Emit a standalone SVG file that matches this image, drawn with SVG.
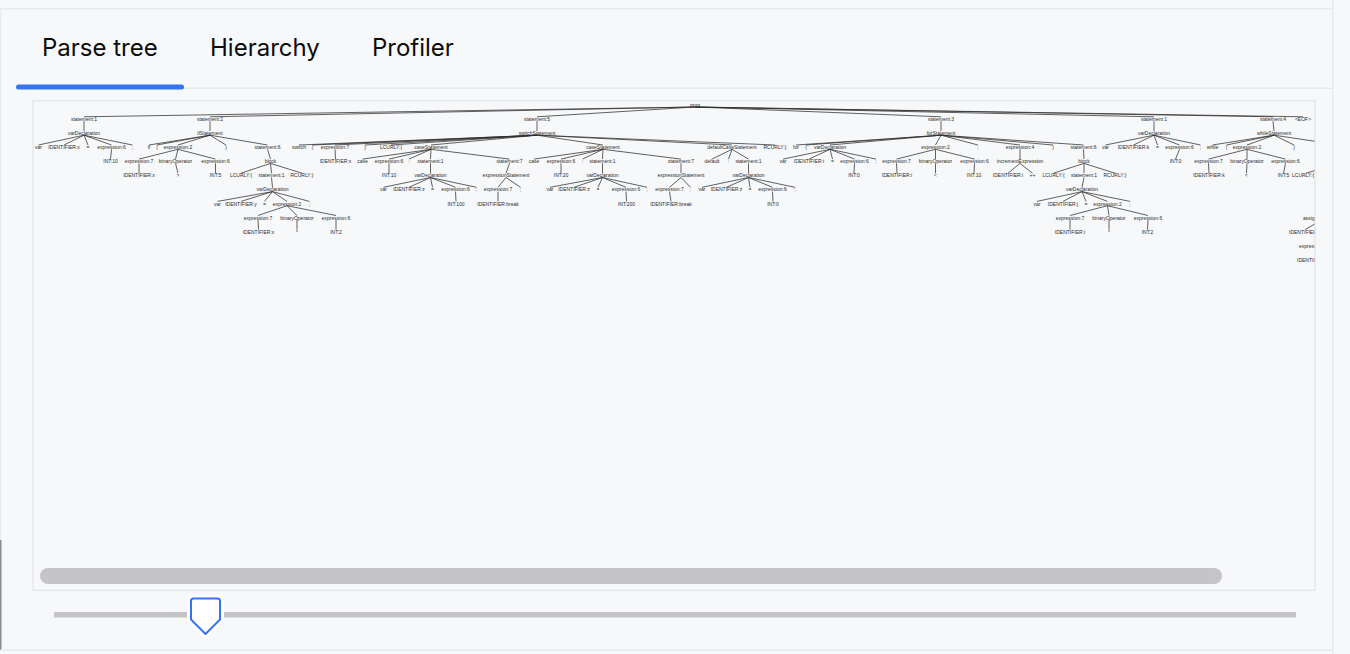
<svg xmlns="http://www.w3.org/2000/svg" width="1350" height="654" viewBox="0 0 1350 654">
<defs>
<style>
.tab{font-family:Inter,"Noto Sans",sans-serif;font-size:24px;fill:#0c0c0c}
.t{font-family:"Liberation Sans",Arial,sans-serif;font-size:5px;fill:#2b2b2b;text-anchor:middle}
.ts{text-anchor:start}
#edges line{stroke:#2e2e2e;stroke-width:0.75}
.sep{fill:#e9eaed}
</style>
<clipPath id="treeClip"><rect x="34" y="101.5" width="1280.5" height="488"/></clipPath>
</defs>
<rect x="0" y="0" width="1350" height="654" fill="#f7f8fa"/>
<g id="frame">
<rect class="sep" x="0" y="8" width="1333" height="1.5"/>
<rect class="sep" x="0" y="9" width="1.2" height="641"/>
<rect x="0" y="540" width="1.5" height="110" fill="#8e8e90"/>
<rect class="sep" x="0" y="649.5" width="1333" height="1.5"/>
<rect class="sep" x="1332" y="0" width="1.5" height="654"/>
</g>
<g id="tabs">
<rect class="sep" x="16" y="87.5" width="1317" height="1.5"/>
<rect x="16" y="84.5" width="168" height="5" rx="2.5" fill="#3574f0"/>
<text class="tab" x="42" y="56">Parse tree</text>
<text class="tab" x="210" y="56">Hierarchy</text>
<text class="tab" x="372" y="56">Profiler</text>
</g>
<g id="panel">
<rect x="33" y="100.8" width="1282" height="489.5" fill="#f7f8fa" stroke="#e6e7ea" stroke-width="1.5"/>
<rect x="40" y="568" width="1182" height="16" rx="8" fill="#c5c5c7"/>
</g>
<g id="slider">
<rect x="54" y="612" width="1242" height="5.5" fill="#c5c5c7"/>
<path d="M193.5 598.5 H217.5 Q220 598.5 220 601 V619.5 L205.5 634 L191 619.5 V601 Q191 598.5 193.5 598.5 Z" fill="#ffffff" stroke="#ffffff" stroke-width="8" stroke-linejoin="round"/>
<path d="M193.5 598.5 H217.5 Q220 598.5 220 601 V619.5 L205.5 634 L191 619.5 V601 Q191 598.5 193.5 598.5 Z" fill="#ffffff" stroke="#3574f0" stroke-width="2" stroke-linejoin="round"/>
</g>
<g id="tree" clip-path="url(#treeClip)">
<g id="edges">
<line x1="695" y1="107" x2="84" y2="116.8"/><line x1="695" y1="107" x2="210" y2="116.8"/><line x1="695" y1="107" x2="537" y2="116.8"/><line x1="695" y1="107" x2="941" y2="116.8"/><line x1="695" y1="107" x2="1154" y2="116.8"/><line x1="695" y1="107" x2="1273" y2="116.8"/><line x1="695" y1="107" x2="1303" y2="116.8"/>
<line x1="84" y1="121.1" x2="84" y2="130.9"/><line x1="210" y1="121.1" x2="210" y2="130.9"/><line x1="537" y1="121.1" x2="537" y2="130.9"/><line x1="941" y1="121.1" x2="941" y2="130.9"/><line x1="1154" y1="121.1" x2="1154" y2="130.9"/><line x1="1273" y1="121.1" x2="1274" y2="130.9"/>
<line x1="84" y1="135.2" x2="38.5" y2="145"/><line x1="84" y1="135.2" x2="64" y2="145"/><line x1="84" y1="135.2" x2="88" y2="145"/><line x1="84" y1="135.2" x2="111.5" y2="145"/><line x1="84" y1="135.2" x2="132.5" y2="145"/>
<line x1="210" y1="135.2" x2="149" y2="145"/><line x1="210" y1="135.2" x2="157" y2="145"/><line x1="210" y1="135.2" x2="178" y2="145"/><line x1="210" y1="135.2" x2="226" y2="145"/><line x1="210" y1="135.2" x2="267.5" y2="145"/>
<line x1="537" y1="135.2" x2="299" y2="145"/><line x1="537" y1="135.2" x2="312.5" y2="145"/><line x1="537" y1="135.2" x2="335" y2="145"/><line x1="537" y1="135.2" x2="365" y2="145"/><line x1="537" y1="135.2" x2="391" y2="145"/><line x1="537" y1="135.2" x2="431" y2="145"/><line x1="537" y1="135.2" x2="603" y2="145"/><line x1="537" y1="135.2" x2="732" y2="145"/><line x1="537" y1="135.2" x2="775" y2="145"/>
<line x1="941" y1="135.2" x2="796" y2="145"/><line x1="941" y1="135.2" x2="806" y2="145"/><line x1="941" y1="135.2" x2="830" y2="145"/><line x1="941" y1="135.2" x2="935.5" y2="145"/><line x1="941" y1="135.2" x2="978" y2="145"/><line x1="941" y1="135.2" x2="1020" y2="145"/><line x1="941" y1="135.2" x2="1053" y2="145"/><line x1="941" y1="135.2" x2="1083.5" y2="145"/>
<line x1="1154" y1="135.2" x2="1105.5" y2="145"/><line x1="1154" y1="135.2" x2="1133.5" y2="145"/><line x1="1154" y1="135.2" x2="1157.5" y2="145"/><line x1="1154" y1="135.2" x2="1179.5" y2="145"/><line x1="1154" y1="135.2" x2="1200.5" y2="145"/>
<line x1="1274" y1="135.2" x2="1212.5" y2="145"/><line x1="1274" y1="135.2" x2="1226.5" y2="145"/><line x1="1274" y1="135.2" x2="1247" y2="145"/><line x1="1274" y1="135.2" x2="1294" y2="145"/><line x1="1274" y1="135.2" x2="1340" y2="145"/>
<line x1="111.5" y1="149.3" x2="110.5" y2="159.1"/>
<line x1="178" y1="149.3" x2="139" y2="159.1"/><line x1="178" y1="149.3" x2="175.5" y2="159.1"/><line x1="178" y1="149.3" x2="215.5" y2="159.1"/>
<line x1="267.5" y1="149.3" x2="270.5" y2="159.1"/>
<line x1="335" y1="149.3" x2="335.5" y2="159.1"/>
<line x1="431" y1="149.3" x2="362.5" y2="159.1"/><line x1="431" y1="149.3" x2="389" y2="159.1"/><line x1="431" y1="149.3" x2="409" y2="159.1"/><line x1="431" y1="149.3" x2="430.5" y2="159.1"/><line x1="431" y1="149.3" x2="509.5" y2="159.1"/>
<line x1="603" y1="149.3" x2="534" y2="159.1"/><line x1="603" y1="149.3" x2="561" y2="159.1"/><line x1="603" y1="149.3" x2="582.5" y2="159.1"/><line x1="603" y1="149.3" x2="602.5" y2="159.1"/><line x1="603" y1="149.3" x2="681" y2="159.1"/>
<line x1="732" y1="149.3" x2="712" y2="159.1"/><line x1="732" y1="149.3" x2="728.5" y2="159.1"/><line x1="732" y1="149.3" x2="748.5" y2="159.1"/>
<line x1="830" y1="149.3" x2="783" y2="159.1"/><line x1="830" y1="149.3" x2="809" y2="159.1"/><line x1="830" y1="149.3" x2="832.5" y2="159.1"/><line x1="830" y1="149.3" x2="854.5" y2="159.1"/><line x1="830" y1="149.3" x2="876" y2="159.1"/>
<line x1="935.5" y1="149.3" x2="896.5" y2="159.1"/><line x1="935.5" y1="149.3" x2="935.5" y2="159.1"/><line x1="935.5" y1="149.3" x2="974.5" y2="159.1"/>
<line x1="1020" y1="149.3" x2="1020" y2="159.1"/>
<line x1="1083.5" y1="149.3" x2="1084" y2="159.1"/>
<line x1="1179.5" y1="149.3" x2="1175.5" y2="159.1"/>
<line x1="1247" y1="149.3" x2="1208.5" y2="159.1"/><line x1="1247" y1="149.3" x2="1247" y2="159.1"/><line x1="1247" y1="149.3" x2="1285.5" y2="159.1"/>
<line x1="1340" y1="149.3" x2="1340" y2="159.1"/>
<line x1="139" y1="163.4" x2="139" y2="173.2"/><line x1="175.5" y1="163.4" x2="178" y2="173.2"/><line x1="215.5" y1="163.4" x2="215.5" y2="173.2"/>
<line x1="270.5" y1="163.4" x2="241" y2="173.2"/><line x1="270.5" y1="163.4" x2="271.5" y2="173.2"/><line x1="270.5" y1="163.4" x2="302" y2="173.2"/>
<line x1="389" y1="163.4" x2="389" y2="173.2"/><line x1="430.5" y1="163.4" x2="430.5" y2="173.2"/><line x1="509.5" y1="163.4" x2="506" y2="173.2"/>
<line x1="561" y1="163.4" x2="561" y2="173.2"/><line x1="602.5" y1="163.4" x2="602.5" y2="173.2"/><line x1="681" y1="163.4" x2="681" y2="173.2"/>
<line x1="748.5" y1="163.4" x2="748.5" y2="173.2"/><line x1="854.5" y1="163.4" x2="854" y2="173.2"/>
<line x1="896.5" y1="163.4" x2="897" y2="173.2"/><line x1="935.5" y1="163.4" x2="935.5" y2="173.2"/><line x1="974.5" y1="163.4" x2="974" y2="173.2"/>
<line x1="1020" y1="163.4" x2="1008" y2="173.2"/><line x1="1020" y1="163.4" x2="1032.5" y2="173.2"/>
<line x1="1084" y1="163.4" x2="1053.5" y2="173.2"/><line x1="1084" y1="163.4" x2="1084" y2="173.2"/><line x1="1084" y1="163.4" x2="1115" y2="173.2"/>
<line x1="1208.5" y1="163.4" x2="1209" y2="173.2"/><line x1="1247" y1="163.4" x2="1246.5" y2="173.2"/><line x1="1285.5" y1="163.4" x2="1283.5" y2="173.2"/>
<line x1="1340" y1="163.4" x2="1306" y2="173.2"/>
<line x1="271.5" y1="177.5" x2="272.5" y2="187.3"/>
<line x1="430.5" y1="177.5" x2="383.5" y2="187.3"/><line x1="430.5" y1="177.5" x2="409" y2="187.3"/><line x1="430.5" y1="177.5" x2="432.5" y2="187.3"/><line x1="430.5" y1="177.5" x2="455.5" y2="187.3"/><line x1="430.5" y1="177.5" x2="476.5" y2="187.3"/>
<line x1="506" y1="177.5" x2="498" y2="187.3"/><line x1="506" y1="177.5" x2="520.5" y2="187.3"/>
<line x1="602.5" y1="177.5" x2="550" y2="187.3"/><line x1="602.5" y1="177.5" x2="574" y2="187.3"/><line x1="602.5" y1="177.5" x2="598" y2="187.3"/><line x1="602.5" y1="177.5" x2="626" y2="187.3"/><line x1="602.5" y1="177.5" x2="647" y2="187.3"/>
<line x1="681" y1="177.5" x2="669.5" y2="187.3"/><line x1="681" y1="177.5" x2="690.5" y2="187.3"/>
<line x1="748.5" y1="177.5" x2="702" y2="187.3"/><line x1="748.5" y1="177.5" x2="726.5" y2="187.3"/><line x1="748.5" y1="177.5" x2="750" y2="187.3"/><line x1="748.5" y1="177.5" x2="772.5" y2="187.3"/><line x1="748.5" y1="177.5" x2="795" y2="187.3"/>
<line x1="1084" y1="177.5" x2="1082" y2="187.3"/>
<line x1="272.5" y1="191.6" x2="217.5" y2="201.4"/><line x1="272.5" y1="191.6" x2="241" y2="201.4"/><line x1="272.5" y1="191.6" x2="264.5" y2="201.4"/><line x1="272.5" y1="191.6" x2="287" y2="201.4"/><line x1="272.5" y1="191.6" x2="309.5" y2="201.4"/>
<line x1="455.5" y1="191.6" x2="456" y2="201.4"/><line x1="498" y1="191.6" x2="498" y2="201.4"/><line x1="626" y1="191.6" x2="626.5" y2="201.4"/><line x1="669.5" y1="191.6" x2="671" y2="201.4"/><line x1="772.5" y1="191.6" x2="773" y2="201.4"/>
<line x1="1082" y1="191.6" x2="1037" y2="201.4"/><line x1="1082" y1="191.6" x2="1063" y2="201.4"/><line x1="1082" y1="191.6" x2="1086" y2="201.4"/><line x1="1082" y1="191.6" x2="1107.5" y2="201.4"/><line x1="1082" y1="191.6" x2="1130" y2="201.4"/>
<line x1="287" y1="205.7" x2="258" y2="215.5"/><line x1="287" y1="205.7" x2="297" y2="215.5"/><line x1="287" y1="205.7" x2="336" y2="215.5"/>
<line x1="1107.5" y1="205.7" x2="1070" y2="215.5"/><line x1="1107.5" y1="205.7" x2="1109" y2="215.5"/><line x1="1107.5" y1="205.7" x2="1148" y2="215.5"/>
<line x1="258" y1="219.8" x2="258.5" y2="229.6"/><line x1="297" y1="219.8" x2="297" y2="229.6"/><line x1="336" y1="219.8" x2="336" y2="229.6"/>
<line x1="1070" y1="219.8" x2="1070" y2="229.6"/><line x1="1109" y1="219.8" x2="1109" y2="229.6"/><line x1="1148" y1="219.8" x2="1147.5" y2="229.6"/>
<line x1="1322" y1="219.8" x2="1305" y2="229.6"/>
</g>
<g id="n0"><text class="t" x="695" y="106.8">prog</text></g>
<g id="n1"><text class="t" x="84" y="120.9">statement:1</text></g>
<g id="n2"><text class="t" x="210" y="120.9">statement:2</text></g>
<g id="n3"><text class="t" x="537" y="120.9">statement:5</text></g>
<g id="n4"><text class="t" x="941" y="120.9">statement:3</text></g>
<g id="n5"><text class="t" x="1154" y="120.9">statement:1</text></g>
<g id="n6"><text class="t" x="1273" y="120.9">statement:4</text></g>
<g id="n7"><text class="t" x="1303" y="120.9">&lt;EOF&gt;</text></g>
<g id="n8"><text class="t" x="84" y="135">varDeclaration</text></g>
<g id="n9"><text class="t" x="210" y="135">ifStatement</text></g>
<g id="n10"><text class="t" x="537" y="135">switchStatement</text></g>
<g id="n11"><text class="t" x="941" y="135">forStatement</text></g>
<g id="n12"><text class="t" x="1154" y="135">varDeclaration</text></g>
<g id="n13"><text class="t" x="1274" y="135">whileStatement</text></g>
<g id="n14"><text class="t" x="38.5" y="149.1">var</text></g>
<g id="n15"><text class="t" x="64" y="149.1">IDENTIFIER:x</text></g>
<g id="n16"><text class="t" x="88" y="149.1">=</text></g>
<g id="n17"><text class="t" x="111.5" y="149.1">expression:6</text></g>
<g id="n18"><text class="t" x="132.5" y="149.1">;</text></g>
<g id="n19"><text class="t" x="149" y="149.1">if</text></g>
<g id="n20"><text class="t" x="157" y="149.1">(</text></g>
<g id="n21"><text class="t" x="178" y="149.1">expression:2</text></g>
<g id="n22"><text class="t" x="226" y="149.1">)</text></g>
<g id="n23"><text class="t" x="267.5" y="149.1">statement:6</text></g>
<g id="n24"><text class="t" x="299" y="149.1">switch</text></g>
<g id="n25"><text class="t" x="312.5" y="149.1">(</text></g>
<g id="n26"><text class="t" x="335" y="149.1">expression:7</text></g>
<g id="n27"><text class="t" x="365" y="149.1">)</text></g>
<g id="n28"><text class="t" x="391" y="149.1">LCURLY:{</text></g>
<g id="n29"><text class="t" x="431" y="149.1">caseStatement</text></g>
<g id="n30"><text class="t" x="603" y="149.1">caseStatement</text></g>
<g id="n31"><text class="t" x="732" y="149.1">defaultCaseStatement</text></g>
<g id="n32"><text class="t" x="775" y="149.1">RCURLY:}</text></g>
<g id="n33"><text class="t" x="796" y="149.1">for</text></g>
<g id="n34"><text class="t" x="806" y="149.1">(</text></g>
<g id="n35"><text class="t" x="830" y="149.1">varDeclaration</text></g>
<g id="n36"><text class="t" x="935.5" y="149.1">expression:2</text></g>
<g id="n37"><text class="t" x="978" y="149.1">;</text></g>
<g id="n38"><text class="t" x="1020" y="149.1">expression:4</text></g>
<g id="n39"><text class="t" x="1053" y="149.1">)</text></g>
<g id="n40"><text class="t" x="1083.5" y="149.1">statement:6</text></g>
<g id="n41"><text class="t" x="1105.5" y="149.1">var</text></g>
<g id="n42"><text class="t" x="1133.5" y="149.1">IDENTIFIER:k</text></g>
<g id="n43"><text class="t" x="1157.5" y="149.1">=</text></g>
<g id="n44"><text class="t" x="1179.5" y="149.1">expression:6</text></g>
<g id="n45"><text class="t" x="1200.5" y="149.1">;</text></g>
<g id="n46"><text class="t" x="1212.5" y="149.1">while</text></g>
<g id="n47"><text class="t" x="1226.5" y="149.1">(</text></g>
<g id="n48"><text class="t" x="1247" y="149.1">expression:2</text></g>
<g id="n49"><text class="t" x="1294" y="149.1">)</text></g>
<g id="n51"><text class="t" x="110.5" y="163.2">INT:10</text></g>
<g id="n52"><text class="t" x="139" y="163.2">expression:7</text></g>
<g id="n53"><text class="t" x="175.5" y="163.2">binaryOperator</text></g>
<g id="n54"><text class="t" x="215.5" y="163.2">expression:6</text></g>
<g id="n55"><text class="t" x="270.5" y="163.2">block</text></g>
<g id="n56"><text class="t" x="335.5" y="163.2">IDENTIFIER:x</text></g>
<g id="n57"><text class="t" x="362.5" y="163.2">case</text></g>
<g id="n58"><text class="t" x="389" y="163.2">expression:6</text></g>
<g id="n59"><text class="t" x="409" y="163.2">:</text></g>
<g id="n60"><text class="t" x="430.5" y="163.2">statement:1</text></g>
<g id="n61"><text class="t" x="509.5" y="163.2">statement:7</text></g>
<g id="n62"><text class="t" x="534" y="163.2">case</text></g>
<g id="n63"><text class="t" x="561" y="163.2">expression:6</text></g>
<g id="n64"><text class="t" x="582.5" y="163.2">:</text></g>
<g id="n65"><text class="t" x="602.5" y="163.2">statement:1</text></g>
<g id="n66"><text class="t" x="681" y="163.2">statement:7</text></g>
<g id="n67"><text class="t" x="712" y="163.2">default</text></g>
<g id="n68"><text class="t" x="728.5" y="163.2">:</text></g>
<g id="n69"><text class="t" x="748.5" y="163.2">statement:1</text></g>
<g id="n70"><text class="t" x="783" y="163.2">var</text></g>
<g id="n71"><text class="t" x="809" y="163.2">IDENTIFIER:i</text></g>
<g id="n72"><text class="t" x="832.5" y="163.2">=</text></g>
<g id="n73"><text class="t" x="854.5" y="163.2">expression:6</text></g>
<g id="n74"><text class="t" x="876" y="163.2">;</text></g>
<g id="n75"><text class="t" x="896.5" y="163.2">expression:7</text></g>
<g id="n76"><text class="t" x="935.5" y="163.2">binaryOperator</text></g>
<g id="n77"><text class="t" x="974.5" y="163.2">expression:6</text></g>
<g id="n78"><text class="t" x="1020" y="163.2">incrementExpression</text></g>
<g id="n79"><text class="t" x="1084" y="163.2">block</text></g>
<g id="n80"><text class="t" x="1175.5" y="163.2">INT:0</text></g>
<g id="n81"><text class="t" x="1208.5" y="163.2">expression:7</text></g>
<g id="n82"><text class="t" x="1247" y="163.2">binaryOperator</text></g>
<g id="n83"><text class="t" x="1285.5" y="163.2">expression:6</text></g>
<g id="n85"><text class="t" x="139" y="177.3">IDENTIFIER:x</text></g>
<g id="n86"><text class="t" x="178" y="177.3">&gt;</text></g>
<g id="n87"><text class="t" x="215.5" y="177.3">INT:5</text></g>
<g id="n88"><text class="t" x="241" y="177.3">LCURLY:{</text></g>
<g id="n89"><text class="t" x="271.5" y="177.3">statement:1</text></g>
<g id="n90"><text class="t" x="302" y="177.3">RCURLY:}</text></g>
<g id="n91"><text class="t" x="389" y="177.3">INT:10</text></g>
<g id="n92"><text class="t" x="430.5" y="177.3">varDeclaration</text></g>
<g id="n93"><text class="t" x="506" y="177.3">expressionStatement</text></g>
<g id="n94"><text class="t" x="561" y="177.3">INT:20</text></g>
<g id="n95"><text class="t" x="602.5" y="177.3">varDeclaration</text></g>
<g id="n96"><text class="t" x="681" y="177.3">expressionStatement</text></g>
<g id="n97"><text class="t" x="748.5" y="177.3">varDeclaration</text></g>
<g id="n98"><text class="t" x="854" y="177.3">INT:0</text></g>
<g id="n99"><text class="t" x="897" y="177.3">IDENTIFIER:i</text></g>
<g id="n100"><text class="t" x="935.5" y="177.3">&lt;</text></g>
<g id="n101"><text class="t" x="974" y="177.3">INT:10</text></g>
<g id="n102"><text class="t" x="1008" y="177.3">IDENTIFIER:i</text></g>
<g id="n103"><text class="t" x="1032.5" y="177.3">++</text></g>
<g id="n104"><text class="t" x="1053.5" y="177.3">LCURLY:{</text></g>
<g id="n105"><text class="t" x="1084" y="177.3">statement:1</text></g>
<g id="n106"><text class="t" x="1115" y="177.3">RCURLY:}</text></g>
<g id="n107"><text class="t" x="1209" y="177.3">IDENTIFIER:k</text></g>
<g id="n108"><text class="t" x="1246.5" y="177.3">&lt;</text></g>
<g id="n109"><text class="t" x="1283.5" y="177.3">INT:5</text></g>
<g id="n110"><text class="t ts" x="1292" y="177.3">LCURLY:{</text></g>
<g id="n111"><text class="t" x="272.5" y="191.4">varDeclaration</text></g>
<g id="n112"><text class="t" x="383.5" y="191.4">var</text></g>
<g id="n113"><text class="t" x="409" y="191.4">IDENTIFIER:z</text></g>
<g id="n114"><text class="t" x="432.5" y="191.4">=</text></g>
<g id="n115"><text class="t" x="455.5" y="191.4">expression:6</text></g>
<g id="n116"><text class="t" x="476.5" y="191.4">;</text></g>
<g id="n117"><text class="t" x="498" y="191.4">expression:7</text></g>
<g id="n118"><text class="t" x="520.5" y="191.4">;</text></g>
<g id="n119"><text class="t" x="550" y="191.4">var</text></g>
<g id="n120"><text class="t" x="574" y="191.4">IDENTIFIER:z</text></g>
<g id="n121"><text class="t" x="598" y="191.4">=</text></g>
<g id="n122"><text class="t" x="626" y="191.4">expression:6</text></g>
<g id="n123"><text class="t" x="647" y="191.4">;</text></g>
<g id="n124"><text class="t" x="669.5" y="191.4">expression:7</text></g>
<g id="n125"><text class="t" x="690.5" y="191.4">;</text></g>
<g id="n126"><text class="t" x="702" y="191.4">var</text></g>
<g id="n127"><text class="t" x="726.5" y="191.4">IDENTIFIER:z</text></g>
<g id="n128"><text class="t" x="750" y="191.4">=</text></g>
<g id="n129"><text class="t" x="772.5" y="191.4">expression:6</text></g>
<g id="n130"><text class="t" x="795" y="191.4">;</text></g>
<g id="n131"><text class="t" x="1082" y="191.4">varDeclaration</text></g>
<g id="n132"><text class="t" x="217.5" y="205.5">var</text></g>
<g id="n133"><text class="t" x="241" y="205.5">IDENTIFIER:y</text></g>
<g id="n134"><text class="t" x="264.5" y="205.5">=</text></g>
<g id="n135"><text class="t" x="287" y="205.5">expression:2</text></g>
<g id="n136"><text class="t" x="309.5" y="205.5">;</text></g>
<g id="n137"><text class="t" x="456" y="205.5">INT:100</text></g>
<g id="n138"><text class="t" x="498" y="205.5">IDENTIFIER:break</text></g>
<g id="n139"><text class="t" x="626.5" y="205.5">INT:200</text></g>
<g id="n140"><text class="t" x="671" y="205.5">IDENTIFIER:break</text></g>
<g id="n141"><text class="t" x="773" y="205.5">INT:0</text></g>
<g id="n142"><text class="t" x="1037" y="205.5">var</text></g>
<g id="n143"><text class="t" x="1063" y="205.5">IDENTIFIER:j</text></g>
<g id="n144"><text class="t" x="1086" y="205.5">=</text></g>
<g id="n145"><text class="t" x="1107.5" y="205.5">expression:2</text></g>
<g id="n146"><text class="t" x="1130" y="205.5">;</text></g>
<g id="n147"><text class="t" x="258" y="219.6">expression:7</text></g>
<g id="n148"><text class="t" x="297" y="219.6">binaryOperator</text></g>
<g id="n149"><text class="t" x="336" y="219.6">expression:6</text></g>
<g id="n150"><text class="t" x="1070" y="219.6">expression:7</text></g>
<g id="n151"><text class="t" x="1109" y="219.6">binaryOperator</text></g>
<g id="n152"><text class="t" x="1148" y="219.6">expression:6</text></g>
<g id="n153"><text class="t ts" x="1303" y="219.6">assignment</text></g>
<g id="n154"><text class="t" x="258.5" y="233.7">IDENTIFIER:x</text></g>
<g id="n155"><text class="t" x="297" y="233.7">*</text></g>
<g id="n156"><text class="t" x="336" y="233.7">INT:2</text></g>
<g id="n157"><text class="t" x="1070" y="233.7">IDENTIFIER:i</text></g>
<g id="n158"><text class="t" x="1109" y="233.7">*</text></g>
<g id="n159"><text class="t" x="1147.5" y="233.7">INT:2</text></g>
<g id="n160"><text class="t ts" x="1289" y="233.7">IDENTIFIER:k</text></g>
<g id="n161"><text class="t ts" x="1299" y="247.8">expression:7</text></g>
<g id="n162"><text class="t ts" x="1297" y="261.9">IDENTIFIER:k</text></g>
</g>
</svg>
